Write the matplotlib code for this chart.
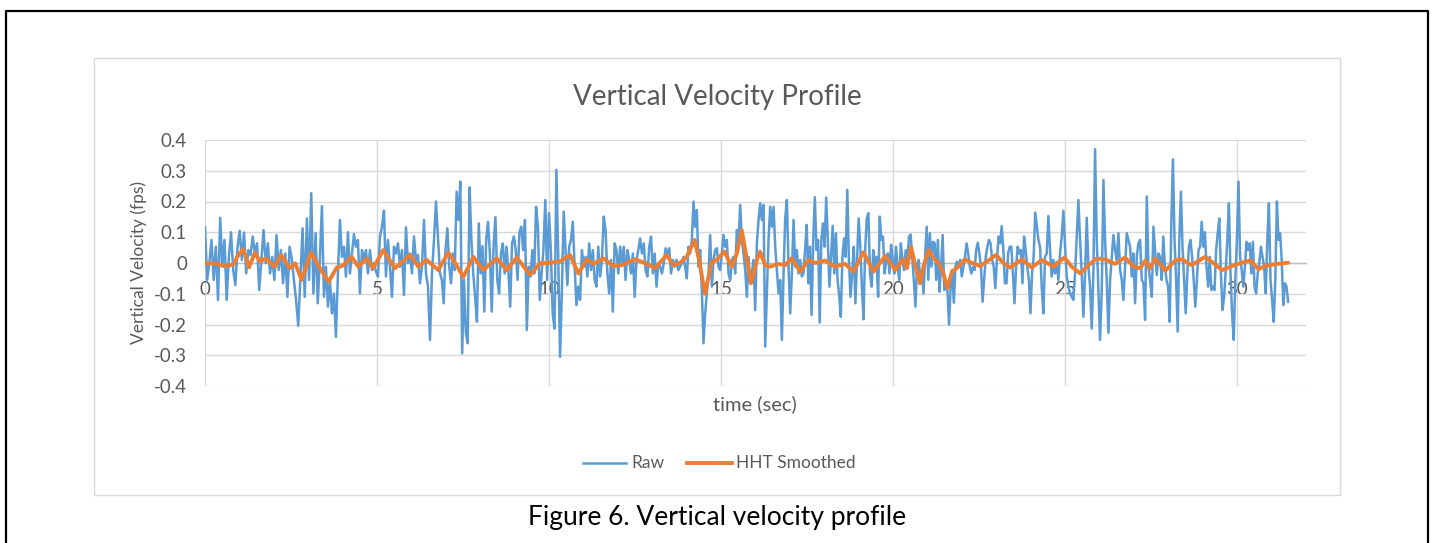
import matplotlib
matplotlib.use("Agg")
import matplotlib.pyplot as plt
import numpy as np
from matplotlib.lines import Line2D
from matplotlib.patches import Rectangle
from matplotlib.ticker import FixedLocator, FuncFormatter

# colours (Excel defaults)
BLUE = "#5B9BD5"
ORANGE = "#ED7D31"
GRID = "#D9D9D9"
AXIS = "#BFBFBF"
TXT = "#595959"
FONT = "Lato"

# ---- data ----
# raw velocity in nine consecutive time blocks (sec)
SEG_EDGES = [0, 3.34, 6.83, 10.32, 13.81, 17.30, 20.79, 24.27, 27.76, 31.48]

raw_seg1 = [0.116, -0.055, 0.0, 0.075, -0.055, 0.053, -0.12, 0.147, -0.012, 0.075, -0.12, 0.02, 0.10,
            -0.023, -0.072, 0.053, 0.105, 0.01, 0.099, -0.034, 0.042, 0.026, 0.086, 0.031, 0.064, -0.088,
            0.01, 0.107, 0.0, 0.064, -0.034, 0.02, -0.055, 0.091, -0.023, 0.042, -0.066, 0.031, -0.11,
            0.053, 0.015, -0.055, -0.12, -0.204, -0.044, 0.113, -0.11, 0.145, -0.055, 0.227, -0.099,
            0.097, -0.131]
raw_seg2 = [0.02, 0.185, -0.11, -0.012, -0.142, -0.055, -0.164, -0.099, -0.24, -0.034, 0.14, 0.02, 0.053,
            -0.044, 0.10, -0.034, 0.031, 0.094, 0.053, 0.075, -0.099, 0.042, 0.01, 0.042, -0.034, 0.042,
            -0.023, 0.0, -0.028, -0.044, 0.086, 0.118, 0.17, -0.044, 0.075, -0.012, -0.11, 0.053, 0.031,
            0.064, -0.012, 0.042, -0.104, 0.116, 0.0, 0.031, -0.034, 0.086, 0.01, 0.026, -0.066, -0.012,
            0.14, -0.034, -0.077, -0.25, -0.034, 0.075, 0.2, 0.086]
raw_seg3 = [-0.034, -0.055, -0.131, 0.042, 0.113, -0.012, -0.066, 0.031, -0.023, 0.232, 0.14, 0.265,
            -0.294, -0.055, -0.229, -0.261, 0.246, 0.075, -0.034, -0.11, -0.191, 0.129, -0.034, 0.055,
            -0.158, 0.075, 0.134, 0.031, -0.158, 0.053, 0.149, -0.055, -0.099, 0.031, 0.064, -0.034, 0.053,
            -0.023, -0.142, 0.064, 0.086, 0.042, -0.055, 0.10, 0.118, 0.042, 0.14, -0.218, -0.012, -0.044,
            0.042, -0.034, 0.183, 0.118, -0.12, -0.034, 0.042, 0.205, -0.055, 0.162, 0.042, -0.164,
            -0.213, 0.303, 0.02]
raw_seg4 = [-0.305, -0.088, 0.167, 0.042, -0.072, 0.053, 0.075, 0.134, -0.012, -0.137, -0.077, -0.12,
            0.042, -0.012, 0.02, -0.044, 0.064, -0.023, 0.042, -0.055, -0.077, 0.053, -0.044, 0.01, 0.151,
            0.107, -0.034, -0.099, 0.01, -0.158, 0.064, 0.042, -0.034, 0.053, 0.0, 0.053, -0.055, 0.042,
            0.01, -0.034, 0.031, -0.11, 0.01, 0.042, 0.08, 0.031, 0.064, -0.023, -0.044, 0.053, 0.086,
            -0.034, 0.031, -0.077, 0.0, -0.012, -0.034, 0.0, 0.048, 0.031, 0.048, -0.034, 0.01, -0.012,
            0.01, -0.023]
raw_seg5 = [-0.012, 0.0, 0.02, -0.012, -0.05, 0.053, 0.031, 0.075, 0.2, 0.118, 0.172, -0.012, 0.042,
            -0.088, -0.261, -0.164, -0.099, -0.034, 0.091, -0.077, 0.01, 0.042, 0.048, -0.012, -0.023,
            0.031, 0.091, 0.053, 0.075, -0.034, -0.055, 0.01, 0.02, -0.034, 0.107, 0.064, 0.189, 0.075,
            0.031, -0.023, -0.11, 0.02, -0.066, -0.034, 0.01, -0.153, 0.064, 0.14, 0.194, 0.14, 0.189,
            -0.272, -0.099, 0.075, 0.183, 0.118, 0.183, 0.053, -0.023, -0.099, -0.055, -0.25, -0.034,
            0.145, 0.205, -0.012, -0.164, -0.034, 0.14, -0.012, 0.042, -0.034]
raw_seg6 = [0.01, -0.044, -0.034, 0.042, 0.124, -0.066, 0.053, -0.169, 0.075, 0.214, 0.042, 0.075,
            -0.194, 0.075, 0.129, 0.053, 0.213, 0.075, -0.077, 0.02, 0.121, -0.034, 0.097, -0.055, -0.104,
            -0.175, 0.02, 0.08, 0.02, 0.238, 0.01, -0.11, -0.034, 0.053, -0.131, 0.01, 0.145, 0.053,
            -0.077, -0.183, 0.042, 0.145, 0.162, -0.034, -0.077, 0.042, -0.012, 0.02, -0.11, 0.151, 0.075,
            0.086, -0.034, 0.01, 0.031, -0.034, 0.059, 0.01, -0.034, 0.053, -0.012, -0.055, 0.064, 0.01,
            -0.023, 0.042, 0.0, 0.086, 0.093, 0.02, -0.055, -0.142, -0.012, 0.01]
raw_seg7 = [-0.066, -0.023, -0.099, 0.02, 0.118, -0.055, 0.097, -0.012, 0.069, 0.064, -0.055, 0.075,
            -0.093, -0.012, 0.091, -0.088, -0.077, -0.088, -0.2, -0.077, -0.023, -0.129, -0.012, 0.004,
            -0.012, 0.01, -0.044, -0.012, 0.02, 0.064, 0.031, -0.012, -0.034, -0.012, -0.023, 0.042,
            0.066, 0.031, -0.012, -0.126, -0.055, 0.02, 0.053, 0.075, 0.064, 0.01, -0.012, -0.082, 0.01,
            0.086, 0.064, 0.12, 0.042, -0.066, -0.066, 0.031, 0.053, 0.053, -0.034, -0.131, -0.012, 0.053,
            0.031, 0.042, -0.066, 0.086, 0.042, -0.012, -0.055, -0.164, -0.034, 0.02, 0.164, 0.118, 0.075]
raw_seg8 = [0.053, -0.077, -0.164, 0.02, 0.031, 0.153, 0.042, -0.044, 0.01, -0.034, 0.004, -0.055, 0.031,
            0.086, 0.17, 0.053, -0.044, -0.077, -0.099, -0.11, -0.12, -0.034, 0.086, 0.205, 0.075, -0.034,
            -0.175, -0.034, 0.147, -0.012, -0.077, -0.213, -0.034, 0.37, 0.075, -0.088, -0.25, -0.088,
            0.27, 0.075, -0.055, -0.227, -0.055, 0.02, 0.091, 0.042, 0.01, 0.097, -0.023, -0.055, -0.12,
            -0.012, 0.097, 0.075, 0.053, -0.044, 0.031, -0.131, 0.02, 0.064, 0.075, -0.055, -0.066,
            -0.185, 0.216, -0.012, -0.055, -0.11, 0.118, 0.042, -0.039, 0.031]
raw_seg9 = [0.02, -0.055, 0.086, -0.012, -0.055, -0.077, -0.191, 0.129, 0.337, 0.075, -0.055, -0.223,
            0.075, 0.232, 0.053, -0.055, -0.164, -0.034, 0.053, 0.075, 0.02, -0.055, -0.142, -0.055, 0.042,
            0.053, 0.134, 0.053, 0.10, -0.012, -0.077, 0.02, -0.088, -0.077, -0.088, 0.042, 0.097, 0.145,
            -0.034, -0.153, -0.11, -0.023, 0.075, 0.194, -0.034, -0.164, -0.25, -0.055, 0.075, 0.265, 0.02,
            -0.023, -0.077, -0.012, 0.069, 0.042, 0.064, -0.034, 0.069, -0.077, -0.099, -0.034, 0.0, 0.053,
            0.02, -0.012, -0.099, 0.075, 0.194, -0.055, -0.12, -0.191, -0.055, 0.2, 0.075, 0.097, 0.01,
            -0.137, -0.066, -0.077, -0.126]
RAW_SEGS = [raw_seg1, raw_seg2, raw_seg3, raw_seg4, raw_seg5, raw_seg6, raw_seg7, raw_seg8, raw_seg9]

# HHT smoothed curve
hht_t = [0.0, 0.29, 0.58, 0.82, 0.97, 1.11, 1.28, 1.45, 1.60, 1.76, 2.03, 2.21, 2.47, 2.62, 2.81, 3.08,
         3.34, 3.59, 3.83, 4.02, 4.26, 4.46, 4.70, 4.89, 5.18, 5.52, 5.96, 6.20, 6.44, 6.78,
         7.07, 7.27, 7.51, 7.80, 8.09, 8.48, 8.77, 9.06, 9.45, 9.74, 10.03, 10.32,
         10.61, 10.85, 11.10, 11.29, 11.58, 11.87, 12.11, 12.50, 12.79, 13.08, 13.42, 13.61, 13.81,
         14.00, 14.23, 14.36, 14.53, 14.73, 14.87, 15.10, 15.31, 15.46, 15.60, 15.75, 15.87, 16.04,
         16.13, 16.28, 16.42, 16.67, 16.86, 17.05,
         17.30, 17.54, 17.73, 18.02, 18.31, 18.60, 18.85, 19.14, 19.43, 19.77, 20.06, 20.30, 20.40,
         20.52, 20.66, 20.78,
         20.88, 21.03, 21.17, 21.32, 21.46, 21.58, 21.71, 21.85, 22.09, 22.29, 22.53, 22.72, 22.99,
         23.21, 23.40, 23.74, 24.03,
         24.32, 24.66, 24.98, 25.19, 25.44, 25.68, 25.92, 26.16, 26.45, 26.74, 26.99, 27.18, 27.33,
         27.47, 27.62,
         27.91, 28.20, 28.39, 28.68, 29.07, 29.31, 29.56, 29.85, 30.14, 30.38, 30.62, 30.81, 31.10, 31.48]
hht_v = [0.0, -0.002, -0.01, -0.005, 0.026, 0.045, -0.014, 0.034, 0.004, 0.015, -0.012, 0.026, -0.017,
         -0.001, -0.055, 0.034,
         -0.017, -0.061, -0.015, -0.008, 0.02, -0.012, 0.015, -0.017, 0.042, -0.017, 0.026, -0.012, 0.01,
         -0.023,
         0.034, 0.0, -0.045, 0.02, -0.023, 0.015, -0.023, 0.018, -0.038, -0.001, 0.001, 0.005,
         0.026, -0.034, 0.012, -0.003, 0.015, -0.01, -0.007, 0.012, 0.0, -0.017, 0.026, -0.007, 0.001,
         0.02, 0.075, 0.01, -0.1, 0.004, 0.01, 0.037, -0.012, 0.031, 0.107, 0.01, -0.066, 0.01, 0.037,
         -0.007, -0.012, -0.003, -0.007, 0.015,
         -0.028, 0.01, 0.0, 0.008, -0.012, -0.003, -0.028, 0.035, -0.028, 0.023, -0.023, 0.013, -0.017,
         0.053, -0.017, -0.066,
         -0.012, 0.042, 0.015, 0.001, -0.034, -0.082, -0.028, -0.017, 0.012, 0.0, -0.01, 0.004, 0.026,
         0.0, -0.015, 0.012, -0.015,
         0.01, -0.012, 0.018, -0.012, -0.034, -0.007, 0.015, 0.012, -0.003, 0.018, -0.012, -0.017, 0.008,
         -0.017, 0.015,
         -0.025, 0.008, 0.012, -0.007, 0.02, 0.0, -0.023, -0.01, 0.001, 0.008, -0.02, -0.01, -0.004, 0.001]

X_TICKS = [0, 5, 10, 15, 20, 25, 30]
Y_TICKS = [-0.4, -0.3, -0.2, -0.1, 0, 0.1, 0.2, 0.3, 0.4]

# sample times: evenly spaced inside each block
raw_t, raw_v = [], []
for i, seg in enumerate(RAW_SEGS):
    last = i == len(RAW_SEGS) - 1
    raw_t.extend(np.linspace(SEG_EDGES[i], SEG_EDGES[i + 1], len(seg), endpoint=last))
    raw_v.extend(seg)

# ---- figure ----
W, H = 1433, 543
fig = plt.figure(figsize=(W / 100, H / 100), dpi=100)
fig.patch.set_facecolor("white")


def fx(px):
    return px / W


def fy(py):
    return 1 - py / H


# outer black frame (open at the bottom) and the light chart-area box
fig.add_artist(Line2D([fx(6), fx(6), fx(1428), fx(1428)], [0, fy(11), fy(11), 0],
                      color="black", lw=1.6, transform=fig.transFigure))
fig.add_artist(Rectangle((fx(94), fy(495)), fx(1340) - fx(94), fy(58) - fy(495),
                         transform=fig.transFigure, fill=False, ec=GRID, lw=1.0))

ax = fig.add_axes([fx(205), fy(386), fx(1306) - fx(205), fy(140) - fy(386)])
ax.set_xlim(0, 32)
ax.set_ylim(-0.4, 0.4)

ax.xaxis.set_major_locator(FixedLocator(X_TICKS))
ax.yaxis.set_major_locator(FixedLocator(Y_TICKS))
ax.xaxis.set_major_formatter(FuncFormatter(lambda v, p: f"{v:g}"))
ax.yaxis.set_major_formatter(FuncFormatter(lambda v, p: "0" if abs(v) < 1e-9 else f"{v:.1f}"))
ax.grid(True, color=GRID, lw=1.0)
ax.set_axisbelow(True)

for s in ["top", "right", "left"]:
    ax.spines[s].set_visible(False)
ax.spines["bottom"].set_position(("data", 0))
ax.spines["bottom"].set_color(AXIS)
ax.spines["bottom"].set_linewidth(1.0)
ax.tick_params(axis="both", length=0, labelsize=13.5, labelcolor=TXT)
ax.tick_params(axis="y", pad=13)
ax.tick_params(axis="x", pad=13)
for lab in ax.get_xticklabels() + ax.get_yticklabels():
    lab.set_fontfamily(FONT)

ax.plot(raw_t, raw_v, color=BLUE, lw=1.8, solid_joinstyle="round", zorder=3)
ax.plot(hht_t, hht_v, color=ORANGE, lw=2.8, solid_joinstyle="round",
        solid_capstyle="round", zorder=4)

# titles
fig.text(fx(717), fy(97), "Vertical Velocity Profile", fontsize=20, color=TXT,
         family=FONT, ha="center", va="center")
fig.text(fx(139), fy(262), "Vertical Velocity (fps)", fontsize=12.5, color=TXT,
         family=FONT, ha="center", va="center", rotation=90)
fig.text(fx(755), fy(404), "time (sec)", fontsize=14.5, color=TXT,
         family=FONT, ha="center", va="center")

# legend row
fig.add_artist(Line2D([fx(583), fx(626)], [fy(463), fy(463)], color=BLUE, lw=1.8,
                      transform=fig.transFigure))
fig.text(fx(631), fy(463), "Raw", fontsize=12.5, color=TXT, family=FONT, ha="left", va="center")
fig.add_artist(Line2D([fx(687), fx(732)], [fy(463), fy(463)], color=ORANGE, lw=2.8,
                      transform=fig.transFigure))
fig.text(fx(736), fy(463), "HHT Smoothed", fontsize=12.5, color=TXT, family=FONT,
         ha="left", va="center")

# figure caption
fig.text(fx(717), fy(517), "Figure 6. Vertical velocity profile", fontsize=19, color="black",
         family=FONT, ha="center", va="center")

fig.savefig("out.png", dpi=100, facecolor="white")
